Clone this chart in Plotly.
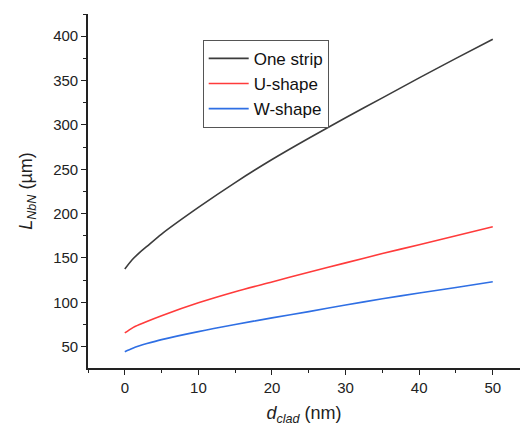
import plotly.graph_objects as go

# Cladding thickness (nm)
d_clad = [0, 1, 2, 3, 5, 10, 15, 20, 25, 30, 35, 40, 45, 50]

# NbN length (µm) for each geometry
one_strip = [137.5, 148, 156, 163, 177, 207, 235, 261, 285, 308, 330.5, 353, 375, 396.6]
u_shape = [65.5, 71, 75, 78.5, 85, 99.5, 112, 123, 134, 144.5, 155, 165, 175, 185.2]
w_shape = [44.4, 48, 51, 53.5, 58, 67, 75, 82.5, 89.5, 97, 104, 110.5, 116.8, 123.2]

series = [
    ("One strip", one_strip, "#3c3c3c"),
    ("U-shape", u_shape, "#ff3b3b"),
    ("W-shape", w_shape, "#2f6fe4"),
]

fig = go.Figure()
for name, vals, color in series:
    fig.add_trace(go.Scatter(
        x=d_clad, y=vals, name=name, mode="lines",
        line=dict(color=color, width=1.6, shape="spline", smoothing=0.8),
    ))

axis_common = dict(
    showline=True, linecolor="#222", linewidth=1.6,
    ticks="outside", ticklen=5, tickwidth=1.4, tickcolor="#222",
    showgrid=False, zeroline=False,
    tickfont=dict(family="Liberation Sans, Arial", size=15, color="#222"),
    title_font=dict(family="Liberation Sans, Arial", size=18, color="#222"),
)

fig.update_xaxes(
    range=[-5, 53.7], dtick=10, tick0=0,
    minor=dict(ticks="outside", ticklen=3, tickwidth=1.2, tickcolor="#222", dtick=5, tick0=0),
    title_text="<i>d</i><sub><i>clad</i></sub> (nm)", title_standoff=12,
    **axis_common,
)
fig.update_yaxes(
    range=[26, 425], dtick=50, tick0=0,
    minor=dict(ticks="outside", ticklen=3, tickwidth=1.2, tickcolor="#222", dtick=25, tick0=0),
    title_text="<i>L</i><sub><i>NbN</i></sub> (µm)", title_standoff=16,
    **axis_common,
)

fig.update_layout(
    width=520, height=427,
    margin=dict(l=88, r=0, t=14, b=59),
    paper_bgcolor="white", plot_bgcolor="white",
    showlegend=True,
    legend=dict(
        x=0.2655, y=0.927, xanchor="left", yanchor="top",
        bordercolor="#555", borderwidth=1, bgcolor="white",
        font=dict(family="Liberation Sans, Arial", size=17, color="#111"),
        tracegroupgap=0, itemwidth=40,
    ),
)

fig.write_html("out.html")
